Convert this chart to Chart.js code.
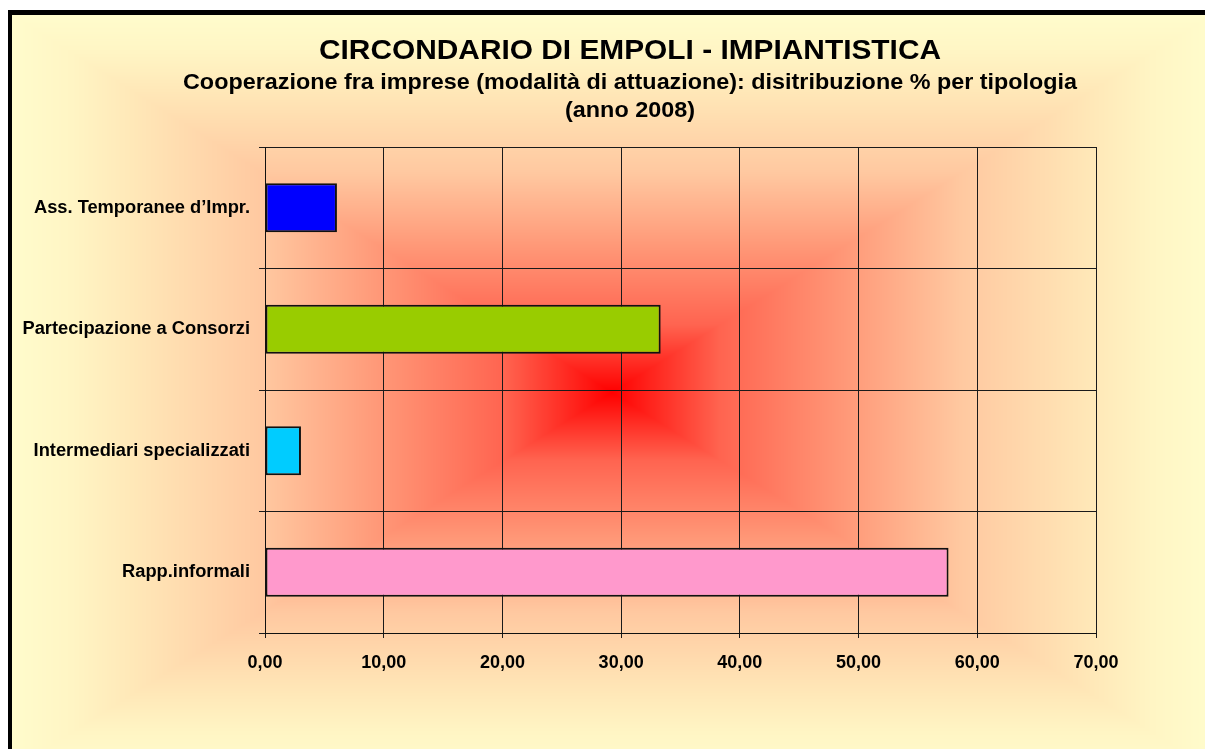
<!DOCTYPE html>
<html>
<head>
<meta charset="utf-8">
<script src="https://cdn.jsdelivr.net/npm/chart.js@4.4.1/dist/chart.umd.min.js"></script>
<style>
html,body{margin:0;padding:0;background:#fff;overflow:hidden}
#wrap{width:1205px;height:749px;position:relative}
</style>
</head>
<body>
<div id="wrap"><canvas id="chart"></canvas></div>
<script>
const categories = ["Ass. Temporanee d\u2019Impr.", "Partecipazione a Consorzi", "Intermediari specializzati", "Rapp.informali"];
const values = [6.06, 33.33, 3.03, 57.58];
const barColors = ["#0000FF", "#99CC00", "#00CCFF", "#FF99CC"];
const xTicks = [0, 10, 20, 30, 40, 50, 60, 70];
const titleText = "CIRCONDARIO DI EMPOLI - IMPIANTISTICA";
const subtitleLines = ["Cooperazione fra imprese (modalit\u00e0 di attuazione): disitribuzione % per tipologia", "(anno 2008)"];

const FONT = "'Liberation Sans', Arial, sans-serif";

// colour ramp of the fill, from the red centre (t=0) to the pale yellow edge (t=1)
const ramp = [
  [0, 255, 0, 0],
  [0.18, 255, 100, 80],
  [0.4, 255, 155, 122],
  [0.58, 255, 200, 160],
  [0.8, 255, 232, 184],
  [0.9, 255, 245, 196],
  [1, 255, 252, 204]
];

function rampColor(t) {
  if (t >= 1) return ramp[ramp.length - 1].slice(1);
  for (let i = 1; i < ramp.length; i++) {
    if (t <= ramp[i][0]) {
      const a = ramp[i - 1], b = ramp[i];
      const f = (t - a[0]) / (b[0] - a[0]);
      return [a[1] + (b[1] - a[1]) * f, a[2] + (b[2] - a[2]) * f, a[3] + (b[3] - a[3]) * f];
    }
  }
}

const background = {
  id: "background",
  beforeDraw(chart) {
    const ctx = chart.ctx;
    const w = chart.width, h = chart.height;
    const img = ctx.createImageData(w, h);
    const d = img.data;
    const x0 = 12, y0 = 15, x1 = 1212, y1 = 770;
    const cx = (x0 + x1) / 2, cy = (y0 + y1) / 2, hw = (x1 - x0) / 2, hh = (y1 - y0) / 2;
    for (let y = 0; y < h; y++) {
      for (let x = 0; x < w; x++) {
        const i = (y * w + x) * 4;
        let c;
        if (x < 8 || y < 10) c = [255, 255, 255];
        else if (x < 12 || y < 15) c = [0, 0, 0];
        else {
          const t = Math.max(Math.abs(x + 0.5 - cx) / hw, Math.abs(y + 0.5 - cy) / hh);
          c = rampColor(t);
        }
        d[i] = c[0]; d[i + 1] = c[1]; d[i + 2] = c[2]; d[i + 3] = 255;
      }
    }
    ctx.putImageData(img, 0, 0);
  },
  afterDraw(chart) {
    const ctx = chart.ctx;
    ctx.save();
    ctx.fillStyle = "#000";
    ctx.textAlign = "center";
    ctx.textBaseline = "alphabetic";
    const drawLine = (text, size, y, width) => {
      ctx.font = "bold " + size + "px " + FONT;
      const sx = width / ctx.measureText(text).width;
      ctx.save();
      ctx.translate(630, y);
      ctx.scale(sx, 1);
      ctx.fillText(text, 0, 0);
      ctx.restore();
    };
    drawLine(titleText, 28.5, 59, 622);
    drawLine(subtitleLines[0], 22, 89, 894);
    drawLine(subtitleLines[1], 22, 117, 130);
    ctx.restore();
  }
};

new Chart(document.getElementById("chart"), {
  type: "bar",
  data: {
    labels: categories,
    datasets: [{
      data: values,
      backgroundColor: barColors,
      borderColor: "#111",
      borderWidth: 2,
      borderSkipped: false,
      barPercentage: 0.405,
      categoryPercentage: 1
    }]
  },
  options: {
    indexAxis: "y",
    responsive: true,
    maintainAspectRatio: false,
    animation: false,
    layout: { padding: { top: 147, right: 109, bottom: 56, left: 0 } },
    plugins: { legend: { display: false }, title: { display: false }, tooltip: { enabled: false } },
    scales: {
      x: {
        min: 0,
        max: 70,
        afterBuildTicks: s => { s.ticks = xTicks.map(v => ({ value: v })); },
        afterFit: s => { s.height = 60; },
        grid: { color: "#1a1a1a", lineWidth: 1, tickLength: 5 },
        border: { color: "#111", width: 1 },
        ticks: {
          color: "#000",
          font: { family: FONT, size: 18, weight: "bold" },
          padding: 14,
          maxRotation: 0,
          callback: v => v.toFixed(2).replace(".", ",")
        }
      },
      y: {
        afterFit: s => { s.width = 265; },
        grid: { offset: true, color: "#1a1a1a", lineWidth: 1, tickLength: 6 },
        border: { color: "#111", width: 1 },
        ticks: { color: "#000", font: { family: FONT, size: 18.3, weight: "bold" }, padding: 9 }
      }
    }
  },
  plugins: [background]
});
</script>
</body>
</html>
